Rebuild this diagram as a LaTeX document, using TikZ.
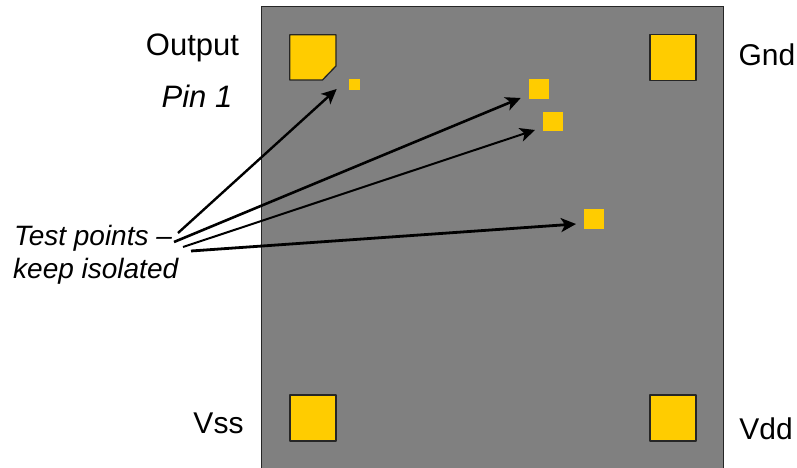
\documentclass[tikz,border=0pt]{standalone}
\usepackage{fontspec}
\setmainfont{Liberation Sans}
\usetikzlibrary{arrows.meta}
\tikzset{
  lab/.style={inner sep=0pt,anchor=center,font=\fontsize{30}{34}\selectfont},
  note/.style={inner sep=0pt,anchor=west,font=\fontsize{28}{34}\selectfont\itshape},
  padbox/.style={fill=padyellow,draw=black!85,line width=1.3pt,line join=round},
  tpbox/.style={fill=padyellow,draw=none},
  lead/.style={draw=black,-{Stealth[length=15pt,width=14pt,inset=4pt]}},
}
\definecolor{padyellow}{HTML}{FFCC00}
\definecolor{chipgray}{HTML}{808080}
\begin{document}
\begin{tikzpicture}[x=1pt,y=-1pt]
\useasboundingbox (0,0) rectangle (797,468);
% chip
\fill[chipgray] (261.5,6.5) rectangle (723.3,468);
\draw[line width=1.4pt,black!85] (261.5,468) -- (261.5,6.5) -- (723.3,6.5) -- (723.3,468);
% pads
\path[padbox] (289.7,34.7) -- (336,34.7) -- (336,66) -- (322.5,80) -- (289.7,80) -- cycle;
\node[padbox,minimum width=46pt,minimum height=46pt,inner sep=0pt] (gndpad) at (673,57.5) {};
\node[padbox,minimum width=46pt,minimum height=46pt,inner sep=0pt] (vsspad) at (313,418) {};
\node[padbox,minimum width=46pt,minimum height=46pt,inner sep=0pt] (vddpad) at (673,418) {};
% test points
\node[tpbox,minimum width=11pt,minimum height=11pt,inner sep=0pt] (tpa) at (354.5,84.8) {};
\node[tpbox,minimum width=20pt,minimum height=20pt,inner sep=0pt] (tpb) at (539,89) {};
\node[tpbox,minimum width=20pt,minimum height=19pt,inner sep=0pt] (tpc) at (552.8,121.8) {};
\node[tpbox,minimum width=20pt,minimum height=20pt,inner sep=0pt] (tpd) at (594.2,219.3) {};
% labels
\node[lab,font=\fontsize{31}{34}\selectfont] (output) at (192.5,47.5) {Output};
\node[lab,font=\fontsize{31}{34}\selectfont\itshape] (pin) at (197,96.5) {Pin 1};
\node[lab] (gnd) at (767,55) {Gnd};
\node[lab] (vss) at (218.5,423.5) {Vss};
\node[lab] (vdd) at (766,429) {Vdd};
\node[note] (t1) at (14,238.5) {Test points --};
\node[note] (t2) at (13,271) {keep isolated};
% leader ends
\coordinate (sa) at (178,233);
\coordinate (sb) at (174,242);
\coordinate (sc) at (183,247);
\coordinate (sd) at (191,251);
\coordinate (ea) at (336.7,89);
\coordinate (eb) at (520.7,98);
\coordinate (ec) at (535,130);
\coordinate (ed) at (576,224);
\draw[lead,line width=2.4pt] (sa) -- (ea);
\draw[lead,line width=2.6pt] (sb) -- (eb);
\draw[lead,line width=2pt] (sc) -- (ec);
\draw[lead,line width=2.8pt] (sd) -- (ed);
\end{tikzpicture}
\end{document}
